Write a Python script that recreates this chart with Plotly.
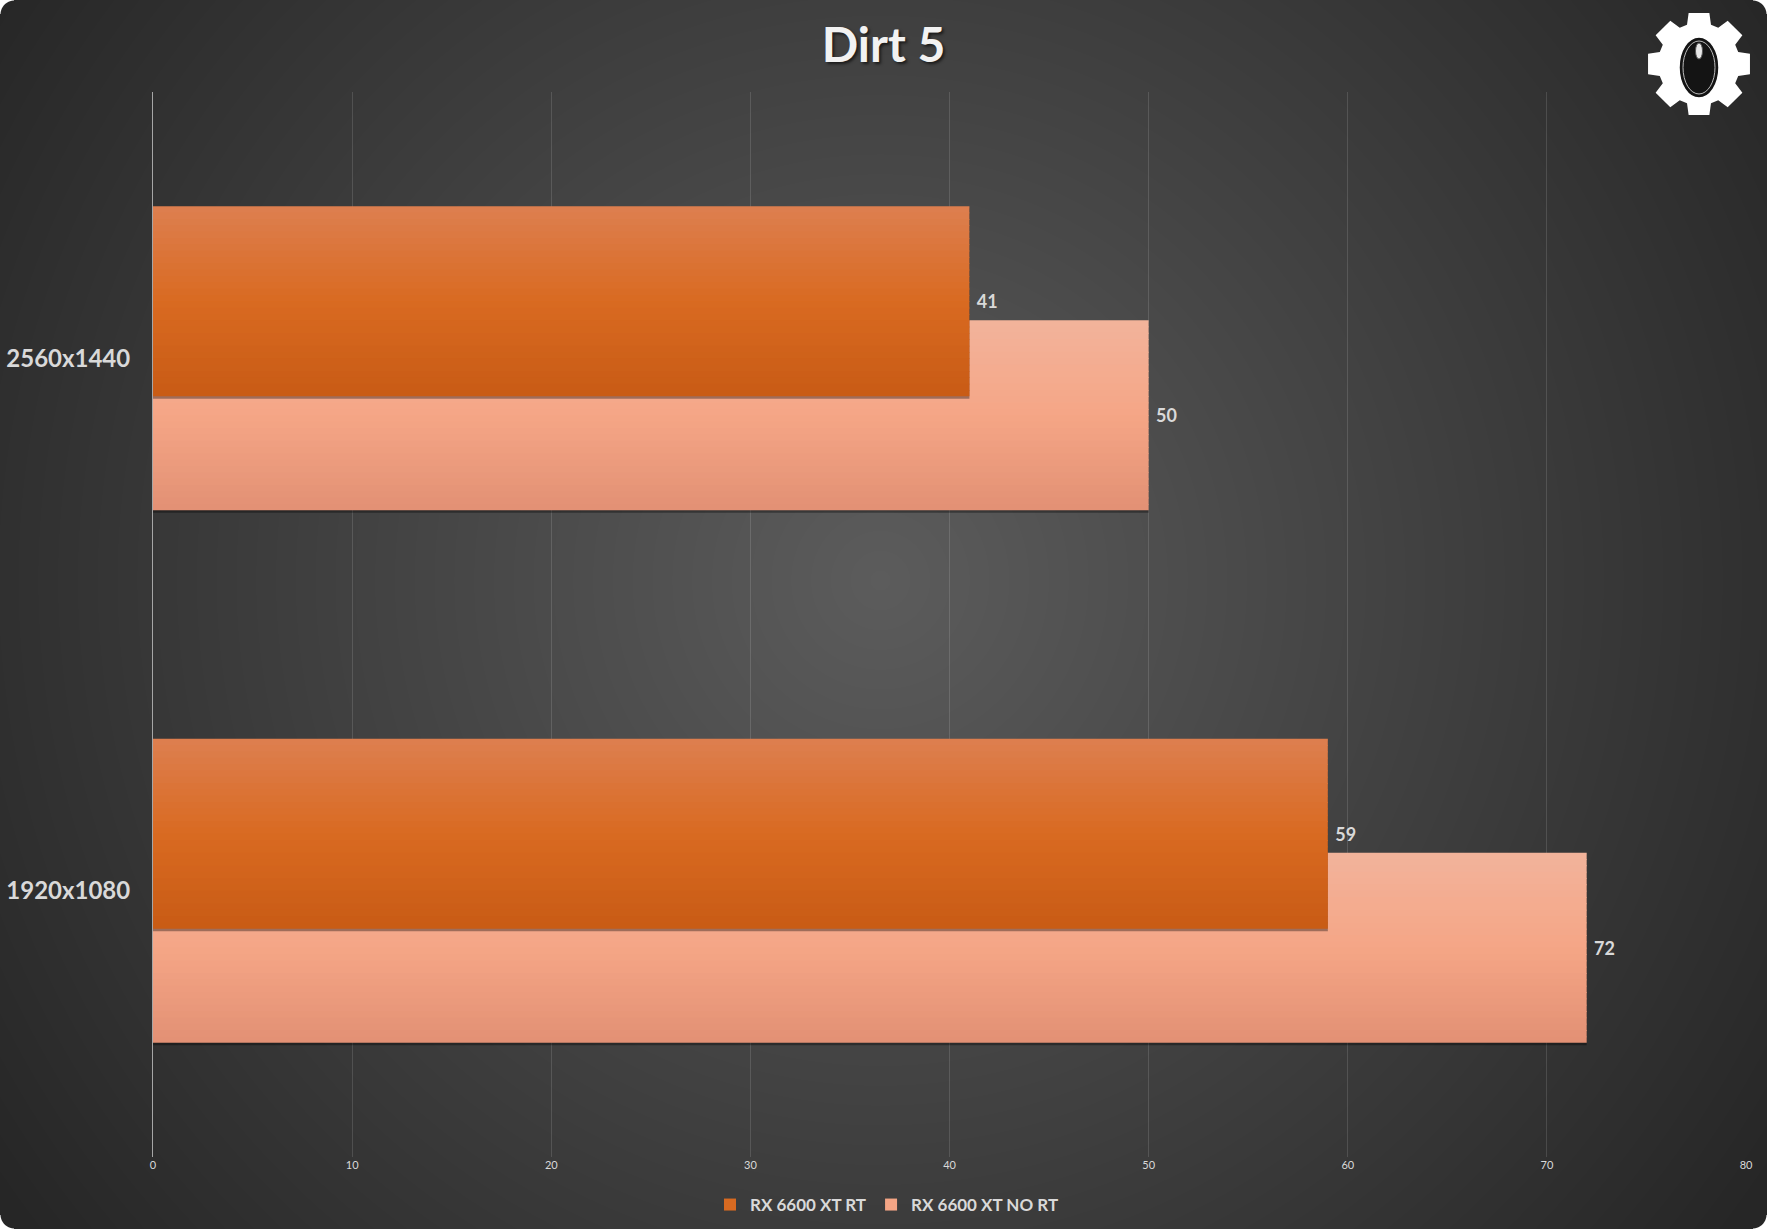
import base64
import struct
import zlib

import numpy as np
import plotly.graph_objects as go

# ---------------- data ----------------
categories = ["1920x1080", "2560x1440"]          # bottom -> top
series_names = ["RX 6600 XT RT", "RX 6600 XT NO RT"]
rt_values = [59, 41]
nort_values = [72, 50]
x_ticks = [0, 10, 20, 30, 40, 50, 60, 70, 80]

# ---------------- geometry / style ----------------
W, H = 1767, 1229
ML, MR, MT, MB = 153, 21, 92, 72
PW, PH = W - ML - MR, H - MT - MB
FONT = "Lato"
TXT = "#d9d9d9"

BAR_W = 0.357          # bar thickness in category units
HALF = 0.2855          # half the span of the bar group
NSL = 30               # gradient slices per bar
EPS = 0.0015

orange_stops = [(0xdd, 0x7f, 0x50), (0xd9, 0x6a, 0x21), (0xc8, 0x5b, 0x15)]
pink_stops = [(0xf2, 0xb3, 0x9b), (0xf5, 0xa6, 0x86), (0xe2, 0x90, 0x74)]


def grad(stops, t):
    if t <= 0.5:
        a, b, u = stops[0], stops[1], t / 0.5
    else:
        a, b, u = stops[1], stops[2], (t - 0.5) / 0.5
    c = [round(a[i] + (b[i] - a[i]) * u) for i in range(3)]
    return "rgb(%d,%d,%d)" % tuple(c)


# ---------------- background image (radial gradient, rounded frame) ----------------
def make_bg():
    yy, xx = np.mgrid[0:H, 0:W].astype(np.float64)
    r = np.sqrt((xx - 880) ** 2 + (yy - 580) ** 2)
    t = np.clip(r / 1070.0, 0, 1)
    g = 92 - (92 - 38) * t
    gray = np.clip(np.round(g), 0, 255).astype(np.uint8)
    rad = 14.0
    a = np.ones((H, W), dtype=np.float64)
    for cx, cy in [(rad, rad), (W - 1 - rad, rad), (rad, H - 1 - rad), (W - 1 - rad, H - 1 - rad)]:
        mx = ((xx < rad) if cx < W / 2 else (xx > W - 1 - rad))
        my = ((yy < rad) if cy < H / 2 else (yy > H - 1 - rad))
        m = mx & my
        d = np.sqrt((xx - cx) ** 2 + (yy - cy) ** 2)
        a = np.where(m, np.clip(rad + 0.5 - d, 0, 1), a)
    alpha = np.round(a * 255).astype(np.uint8)
    img = np.stack([gray, alpha], axis=-1).reshape(H, W * 2).astype(np.int16)
    sub = img.copy()
    sub[:, 2:] = (img[:, 2:] - img[:, :-2]) % 256
    sub = sub.astype(np.uint8)
    raw = np.concatenate([np.ones((H, 1), dtype=np.uint8), sub], axis=1).tobytes()

    def chunk(tag, data):
        c = struct.pack(">I", len(data)) + tag + data
        return c + struct.pack(">I", zlib.crc32(tag + data) & 0xFFFFFFFF)

    png = b"\x89PNG\r\n\x1a\n"
    png += chunk(b"IHDR", struct.pack(">IIBBBBB", W, H, 8, 4, 0, 0, 0))
    png += chunk(b"IDAT", zlib.compress(raw, 9))
    png += chunk(b"IEND", b"")
    return "data:image/png;base64," + base64.b64encode(png).decode()


fig = go.Figure()


def add_bar(values, name, stops, top_offset, legend_rank):
    # soft shadow
    fig.add_trace(go.Bar(
        y=categories, x=values, orientation="h",
        offset=top_offset - BAR_W - 0.0045, width=BAR_W,
        marker=dict(color="rgba(0,0,0,0.35)", line=dict(width=0)),
        showlegend=False, hoverinfo="skip"))
    sl = BAR_W / NSL
    bottom = top_offset - BAR_W
    for k in range(NSL):
        t = (k + 0.5) / NSL
        hi = top_offset - k * sl
        lo = max(top_offset - (k + 1) * sl - EPS, bottom)
        fig.add_trace(go.Bar(
            y=categories, x=values, orientation="h",
            offset=lo, width=hi - lo,
            marker=dict(color=grad(stops, t), line=dict(width=0)),
            name=name, legendgroup=name, legendrank=legend_rank,
            showlegend=(k == NSL // 2), hoverinfo="x+name"))


add_bar(nort_values, series_names[1], pink_stops, HALF - 0.214, 2)
add_bar(rt_values, series_names[0], orange_stops, HALF, 1)

# value labels
for vals, top in [(rt_values, HALF), (nort_values, HALF - 0.214)]:
    fig.add_trace(go.Bar(
        y=categories, x=vals, orientation="h",
        offset=top - BAR_W, width=BAR_W,
        marker=dict(color="rgba(0,0,0,0)", line=dict(width=0)),
        texttemplate=" %{x}", textposition="outside", cliponaxis=False,
        textfont=dict(family=FONT, size=18, color=TXT, weight="bold"),
        showlegend=False, hoverinfo="skip"))

# ---------------- logo (gear + mouse) ----------------
gx, gy = 1699, 64
ax_ = (gx - ML) / PW
ay_ = (H - MB - gy) / PH
pts = []
r_root, r_tip = 41, 52
for i in range(8):
    th = np.deg2rad(90 + i * 45)
    for da, rr in [(-17, r_root), (-11.5, r_tip), (11.5, r_tip), (17, r_root)]:
        ang = th + np.deg2rad(da)
        pts.append((rr * np.cos(ang), rr * np.sin(ang)))
gear_path = "M " + " L ".join("%.2f,%.2f" % p for p in pts) + " Z"

shapes = [
    dict(type="path", path=gear_path, xsizemode="pixel", ysizemode="pixel",
         xref="paper", yref="paper", xanchor=ax_, yanchor=ay_,
         fillcolor="white", line=dict(width=0), layer="above"),
    dict(type="circle", xsizemode="pixel", ysizemode="pixel", xref="paper", yref="paper",
         xanchor=ax_, yanchor=ay_, x0=-20, x1=20, y0=-34, y1=27,
         fillcolor="#141414", line=dict(color="white", width=1.5), layer="above"),
    dict(type="circle", xsizemode="pixel", ysizemode="pixel", xref="paper", yref="paper",
         xanchor=ax_, yanchor=ay_, x0=-16, x1=16, y0=-30, y1=23,
         fillcolor="rgba(0,0,0,0)", line=dict(color="#bbbbbb", width=1), layer="above"),
    dict(type="circle", xsizemode="pixel", ysizemode="pixel", xref="paper", yref="paper",
         xanchor=ax_, yanchor=ay_, x0=-3.5, x1=3.5, y0=5, y1=21,
         fillcolor="#e8e8e8", line=dict(color="#555", width=1), layer="above"),
]

fig.update_layout(
    width=W, height=H,
    margin=dict(l=ML, r=MR, t=MT, b=MB, autoexpand=False),
    paper_bgcolor="white",
    plot_bgcolor="rgba(0,0,0,0)",
    barmode="overlay",
    title=dict(text="Dirt 5", x=0.5, xref="container", xanchor="center",
               y=1 - 45 / H, yref="container", yanchor="middle",
               font=dict(family=FONT, size=48, color="#f2f2f2", weight="bold",
                         shadow="2px 2px 3px rgba(0,0,0,0.6)")),
    xaxis=dict(range=[0, 80], tickvals=x_ticks, ticktext=[str(v) for v in x_ticks],
               showgrid=True, gridcolor="rgba(255,255,255,0.13)", gridwidth=1,
               zeroline=False, showline=False, ticks="",
               tickfont=dict(family=FONT, size=11, color=TXT), fixedrange=True),
    yaxis=dict(type="category", categoryorder="array", categoryarray=categories,
               range=[-0.5, 1.5], showgrid=False, zeroline=False,
               showline=True, linecolor="#a6a6a6", linewidth=1, ticks="",
               ticklabelstandoff=17,
               tickfont=dict(family=FONT, size=24, color=TXT, weight="bold")),
    legend=dict(orientation="h", x=(887 - ML) / PW, xanchor="center",
                y=(H - MB - 1205) / PH, yanchor="middle",
                font=dict(family=FONT, size=17, color=TXT, weight="bold"),
                bgcolor="rgba(0,0,0,0)", traceorder="normal"),
    images=[dict(source=make_bg(), xref="paper", yref="paper",
                 x=-ML / PW, y=(H - MB) / PH, sizex=W / PW, sizey=H / PH,
                 xanchor="left", yanchor="top", sizing="stretch", layer="below")],
    shapes=shapes,
    showlegend=True,
)

fig.write_html("out.html", config={"displayModeBar": False},
               post_script="document.body.style.margin='0';document.body.style.overflow='hidden';")
